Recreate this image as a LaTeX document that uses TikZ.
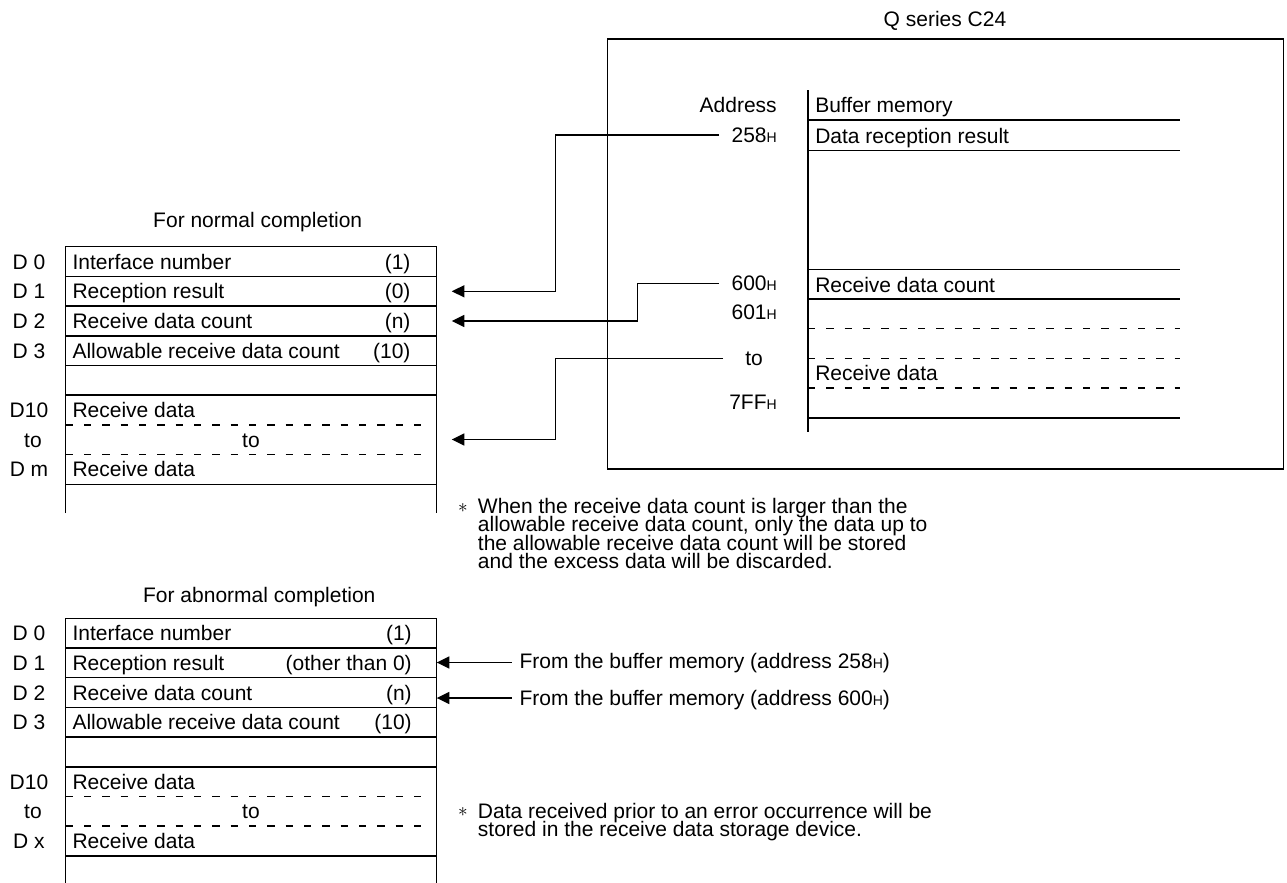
\documentclass[tikz,border=0pt]{standalone}
\usepackage{fontspec}
\setmainfont{Liberation Sans}
\usetikzlibrary{arrows.meta}
\newcommand\subH{{\fontsize{10.5pt}{10pt}\selectfont H}}
\newcommand\fnlines[2]{\vtop{\baselineskip=#1\lineskiplimit=-50pt\lineskip=0pt #2}}
\begin{document}
\begin{tikzpicture}[x=0.75pt,y=-0.75pt,
  every node/.style={inner sep=0pt, font=\fontsize{15.75pt}{18pt}\selectfont},
  ln/.style={line width=1.1pt},
  dsh/.style={line width=1.1pt, dash pattern=on 5.5pt off 8.25pt},
  arr/.style={line width=1.1pt, -{Triangle[length=9.5pt,width=9pt]}},
  txt/.style={anchor=base west},
  rtxt/.style={anchor=base east},
  ctxt/.style={anchor=base},
  ast/.style={anchor=center}
]
\useasboundingbox (0,0) rectangle (1287,882);

% ---------------- Q series C24 -----------------
\node[ctxt] (qtitle) at (945,26) {Q series C24};
\draw[ln] (607.7,39) rectangle (1283.3,469);
\draw[ln] (808,90) -- (808,432.3);
\foreach \yy in {120,150.5,269.5,299,418}{\draw[ln] (808,\yy) -- (1180,\yy);}
\foreach \yy in {328.5,358.5,388}{\draw[dsh] (808,\yy) -- (1180,\yy);}
\node[txt] (bm)  at (815,112.3) {Buffer memory};
\node[txt] (drr) at (815,143.3) {Data reception result};
\node[txt] (rdc) at (815,292.3) {Receive data count};
\node[txt] (rd)  at (815,380.7) {Receive data};
\node[rtxt] (addr) at (777,112.5) {Address};
\node[rtxt] (a258) at (777,142) {258\subH};
\node[rtxt] (a600) at (777,290.5) {600\subH};
\node[rtxt] (a601) at (777,319.5) {601\subH};
\node[ctxt] (ato)  at (754,365) {to};
\node[rtxt] (a7ff) at (777,409) {7FF\subH};

% ---------------- Table 1 (normal) -----------------
\def\TA{246.7}
\def\P{29.7}
\node[ctxt] (t1title) at (257.7,227) {For normal completion};
\draw[ln] (65.7,513) -- (65.7,\TA) -- (436.7,\TA) -- (436.7,513);
\foreach \k in {1,2,3,4,5,8}{\draw[ln] (65.7,\TA+\k*\P) -- (436.7,\TA+\k*\P);}
\foreach \k in {6,7}{\draw[dsh] (65.7,\TA+\k*\P) -- (430,\TA+\k*\P);}
\foreach \k/\lab/\txtA/\val in {0/D 0/Interface number/(1), 1/D 1/Reception result/(0), 2/D 2/Receive data count/(n), 3/D 3/Allowable receive data count/(10), 5/D10/Receive data/, 7/D m/Receive data/}{
  \node[ctxt] (nl\k) at (29,\TA+\k*\P+22.35) {\lab};
  \node[txt]  (nt\k) at (72.3,\TA+\k*\P+22.35) {\txtA};
  \node[rtxt] (nv\k) at (410.7,\TA+\k*\P+22.35) {\val};
}
\node[ctxt] (nl6) at (33,\TA+6*\P+22.35) {to};
\node[ctxt] (nt6) at (251,\TA+6*\P+22.35) {to};

% connectors
\coordinate (s258) at (719,135);
\coordinate (s600) at (719,283.3);
\coordinate (sto)  at (723,358.7);
\coordinate (tg1) at (451.7,291.3);
\coordinate (tg2) at (451.7,321);
\coordinate (tg3) at (451.7,439.5);
\draw[arr] (s258) -- ++(-163.3,0) |- (tg1);
\draw[arr] (s600) -- ++(-81.3,0) |- (tg2);
\draw[arr] (sto)  -- ++(-167.3,0) |- (tg3);

% footnote 1
\node[ast] (fa1) at (463,508) {$\ast$};
\node[txt] (fn1) at (477.7,513.5) {\fnlines{13.725pt}{%
  \hbox{When the receive data count is larger than the}%
  \hbox{allowable receive data count, only the data up to}%
  \hbox{the allowable receive data count will be stored}%
  \hbox{and the excess data will be discarded.}}};

% ---------------- Table 2 (abnormal) -----------------
\def\TB{618.3}
\node[ctxt] (t2title) at (259.3,602) {For abnormal completion};
\draw[ln] (65.7,884) -- (65.7,\TB) -- (436.7,\TB) -- (436.7,884);
\foreach \k in {1,2,3,4,5,8}{\draw[ln] (65.7,\TB+\k*\P) -- (436.7,\TB+\k*\P);}
\foreach \k in {6,7}{\draw[dsh] (65.7,\TB+\k*\P) -- (430,\TB+\k*\P);}
\foreach \k/\lab/\txtA/\val in {0/D 0/Interface number/(1), 1/D 1/Reception result/(other than 0), 2/D 2/Receive data count/(n), 3/D 3/Allowable receive data count/(10), 5/D10/Receive data/, 7/D x/Receive data/}{
  \node[ctxt] (al\k) at (29,\TB+\k*\P+22.35) {\lab};
  \node[txt]  (at\k) at (72.3,\TB+\k*\P+22.35) {\txtA};
  \node[rtxt] (av\k) at (412,\TB+\k*\P+22.35) {\val};
}
\node[ctxt] (al6) at (33,\TB+6*\P+22.35) {to};
\node[ctxt] (at6) at (251,\TB+6*\P+22.35) {to};

\coordinate (fs1) at (511.7,662.5);
\coordinate (fs2) at (511.7,698);
\coordinate (ft1) at (436.7,662.5);
\coordinate (ft2) at (436.7,698);
\draw[arr] (fs1) -- (ft1);
\draw[arr] (fs2) -- (ft2);
\node[txt] (from1) at (519.3,668.3) {From the buffer memory (address 258\subH)};
\node[txt] (from2) at (519.3,705) {From the buffer memory (address 600\subH)};

% footnote 2
\node[ast] (fa2) at (463,811.7) {$\ast$};
\node[txt] (fn2) at (477.7,818.3) {\fnlines{13.8pt}{%
  \hbox{Data received prior to an error occurrence will be}%
  \hbox{stored in the receive data storage device.}}};
\end{tikzpicture}
\end{document}
